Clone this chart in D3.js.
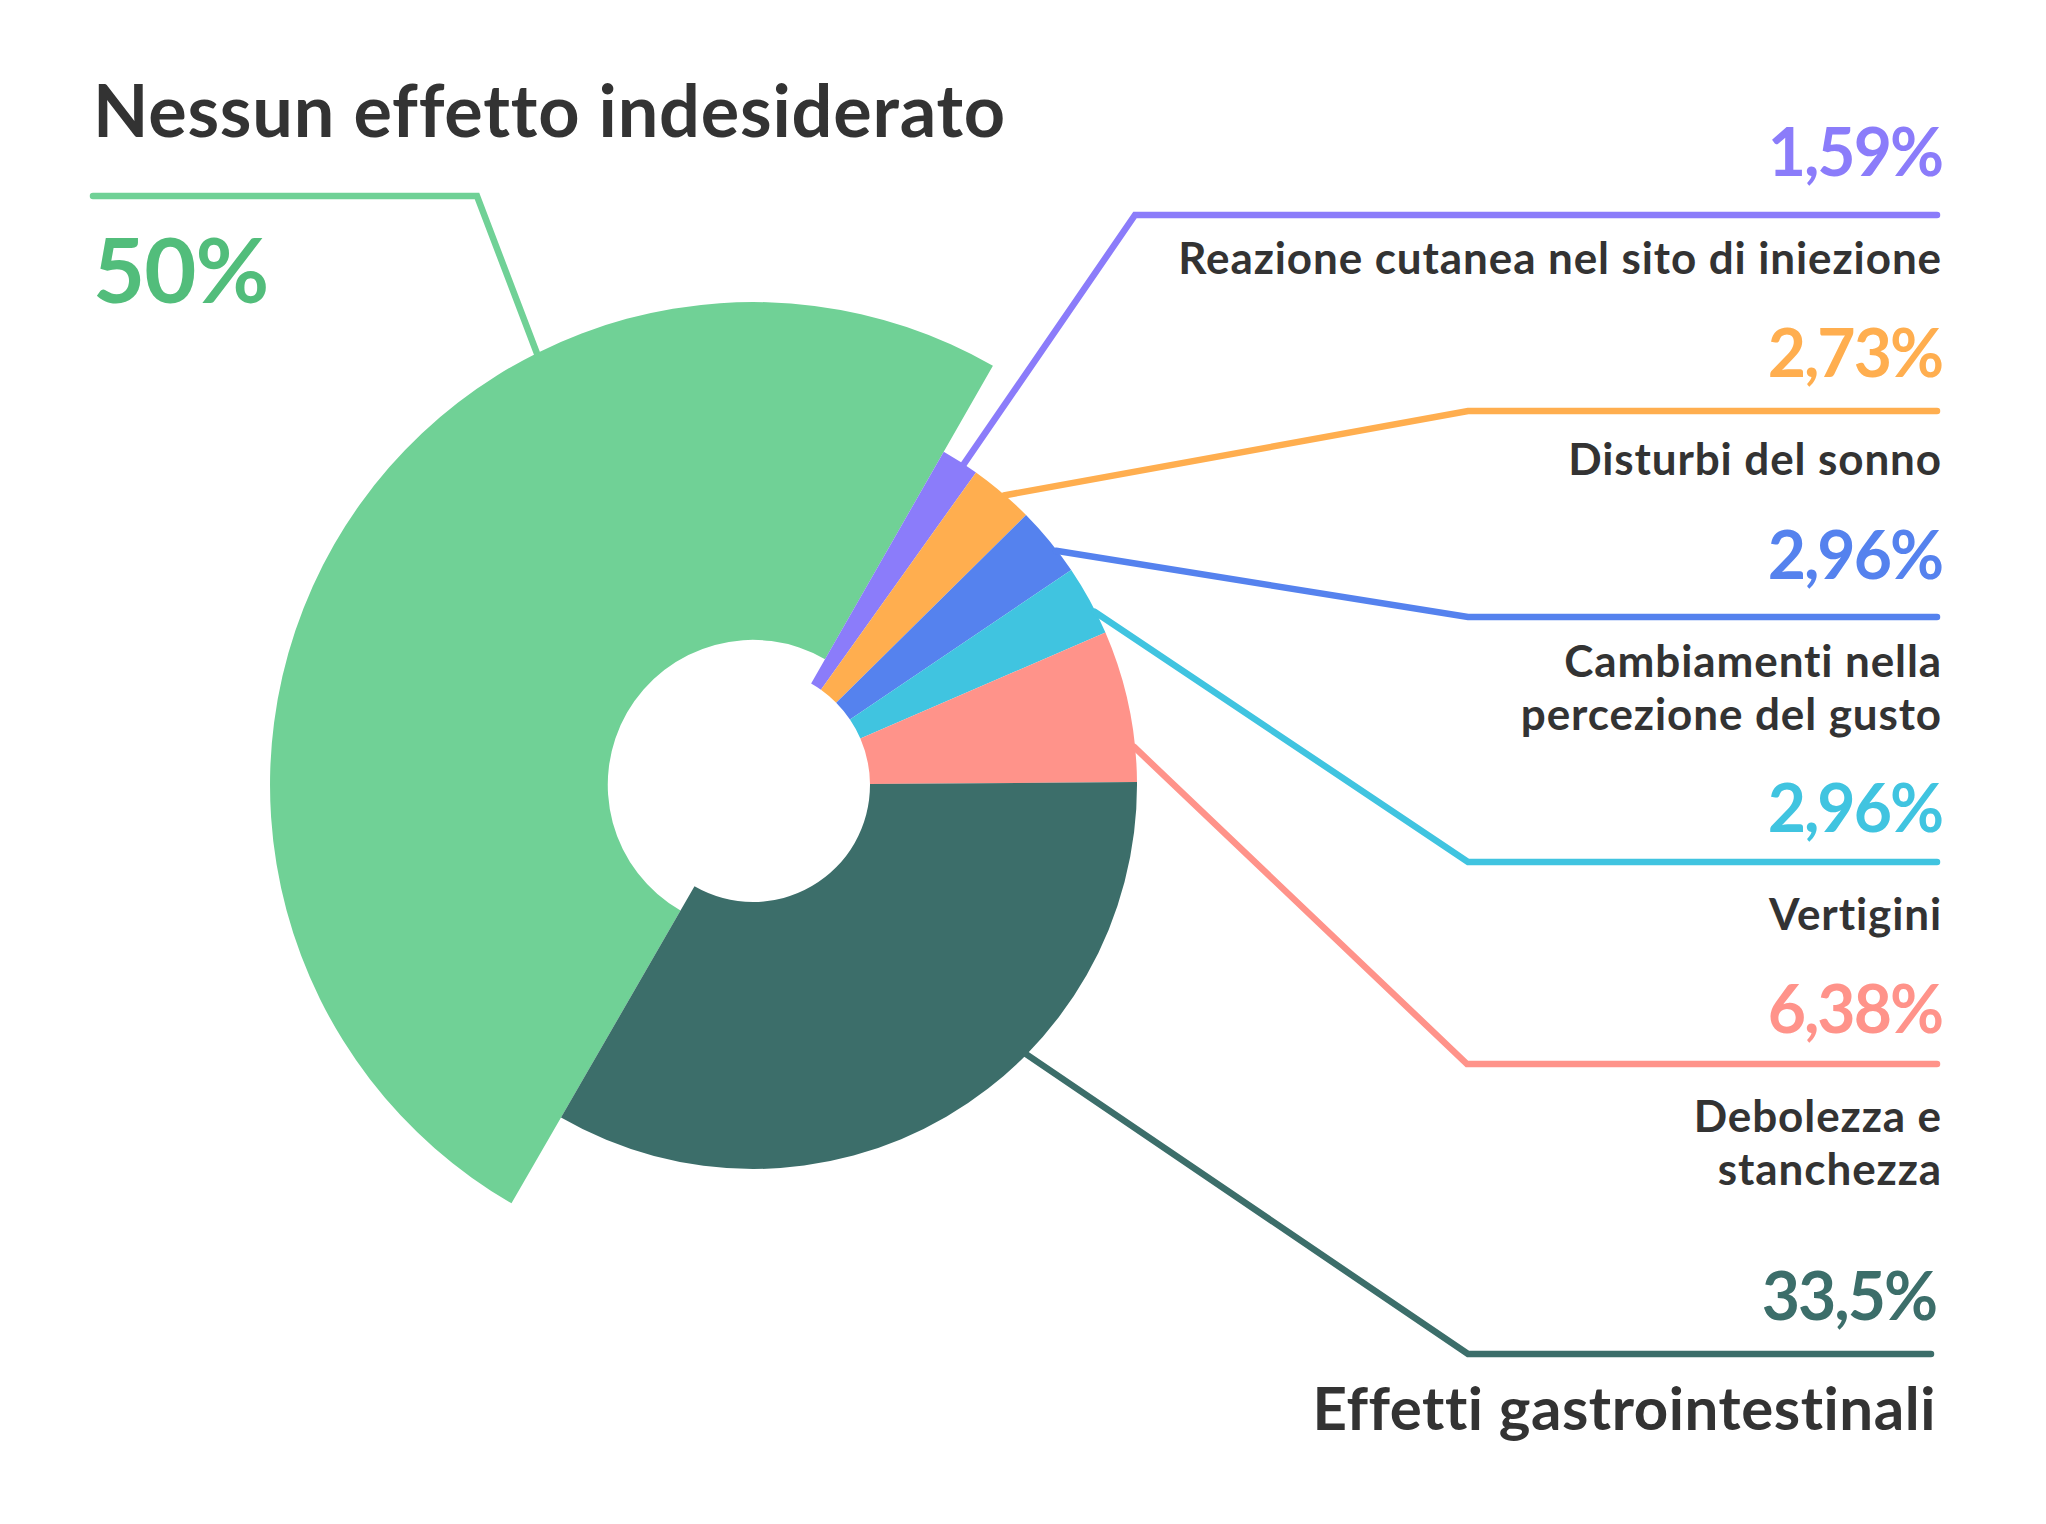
<!DOCTYPE html>
<html>
<head>
<meta charset="utf-8">
<script src="https://cdn.jsdelivr.net/npm/d3@7"></script>
<style>
  html, body { margin: 0; padding: 0; background: #ffffff; }
  svg { display: block; font-family: 'Lato', 'Noto Sans', sans-serif; }
</style>
</head>
<body>
<svg width="2046" height="1524"></svg>
<script>
// data
const categories = [
  'Nessun effetto indesiderato',
  'Reazione cutanea nel sito di iniezione',
  'Disturbi del sonno',
  'Cambiamenti nella percezione del gusto',
  'Vertigini',
  'Debolezza e stanchezza',
  'Effetti gastrointestinali'
];
const values = [50, 1.59, 2.73, 2.96, 2.96, 6.38, 33.5];
const labelLines = [
  ['Nessun effetto indesiderato'],
  ['Reazione cutanea nel sito di iniezione'],
  ['Disturbi del sonno'],
  ['Cambiamenti nella', 'percezione del gusto'],
  ['Vertigini'],
  ['Debolezza e', 'stanchezza'],
  ['Effetti gastrointestinali']
];
const colors = ['#70d196', '#8b7cfa', '#ffae4f', '#5582ee', '#40c4e0', '#ff938a', '#3c6e6a'];
const pctColors = ['#52bd7b', '#8b7cfa', '#ffae4f', '#5582ee', '#40c4e0', '#ff938a', '#3c6e6a'];

// layout (not data)
const cx = 753, cy = 785;
const rad = Math.PI / 180;
const leaderAngle = [333.4, 33.3, 40.9, 52.3, 63.1, 84.3, 134.6];
const lineY = [196, 215, 411, 617, 862, 1064, 1354];
const cornerX = [477, 1135, 1468, 1468, 1468, 1467, 1468];
const endX = [93, 1937, 1937, 1937, 1937, 1937, 1931];
const pctY = [303, 176, 377, 579, 832, 1033, 1320];
const labelY = [137, 274, 475, 677, 930, 1132, 1430];

const svg = d3.select('svg');
const g = svg.append('g').attr('transform', 'translate(' + cx + ',' + cy + ')');

const pie = d3
  .pie()
  .sort(null)
  .value(function (d) {
    return d;
  })
  .startAngle(-150 * rad)
  .endAngle(210 * rad);

const arcs = pie(values);

function innerR(i) {
  return i === 0 ? 145 : 117;
}
function outerR(i) {
  return i === 0 ? 483 : 384;
}

const arc = d3.arc();

g.selectAll('path.slice')
  .data(arcs)
  .enter()
  .append('path')
  .attr('class', 'slice')
  .attr('fill', function (d, i) {
    return colors[i];
  })
  .attr('d', function (d, i) {
    return arc({
      innerRadius: innerR(i),
      outerRadius: outerR(i),
      startAngle: d.startAngle,
      endAngle: d.endAngle
    });
  });

// leader lines
const line = d3.line();
svg
  .append('g')
  .selectAll('path')
  .data(arcs)
  .enter()
  .append('path')
  .attr('fill', 'none')
  .attr('stroke', function (d, i) {
    return colors[i];
  })
  .attr('stroke-width', 6.5)
  .attr('stroke-linecap', 'round')
  .attr('stroke-linejoin', 'miter')
  .attr('d', function (d, i) {
    const a = leaderAngle[i] * rad;
    const r = outerR(i) - 1;
    const p0 = [cx + Math.sin(a) * r, cy - Math.cos(a) * r];
    return line([p0, [cornerX[i], lineY[i]], [endX[i], lineY[i]]]);
  });

// texts
function fmt(v) {
  return String(v).replace('.', ',') + '%';
}

const txt = svg.append('g');

values.forEach(function (v, i) {
  const isGreen = i === 0;
  const isBig = i === 6;
  const x = isGreen ? 93 : isBig ? 1936 : 1942;
  const anchor = isGreen ? 'start' : 'end';

  txt
    .append('text')
    .attr('x', x)
    .attr('y', pctY[i])
    .attr('text-anchor', anchor)
    .attr('fill', pctColors[i])
    .attr('font-size', isGreen ? 90 : 66)
    .attr('letter-spacing', isGreen ? -1 : -2)
    .attr('font-weight', 700)
    .text(fmt(v));

  const lab = txt
    .append('text')
    .attr('x', x)
    .attr('y', labelY[i])
    .attr('text-anchor', anchor)
    .attr('fill', '#333333')
    .attr('font-size', isGreen ? 72 : isBig ? 60 : 44)
    .attr('letter-spacing', isGreen ? 0.8 : isBig ? 0.55 : 0.9)
    .attr('font-weight', 700);

  lab
    .selectAll('tspan')
    .data(labelLines[i])
    .enter()
    .append('tspan')
    .attr('x', x)
    .attr('dy', function (d, j) {
      return j === 0 ? 0 : 53;
    })
    .text(function (d) {
      return d;
    });
});
</script>
</body>
</html>
